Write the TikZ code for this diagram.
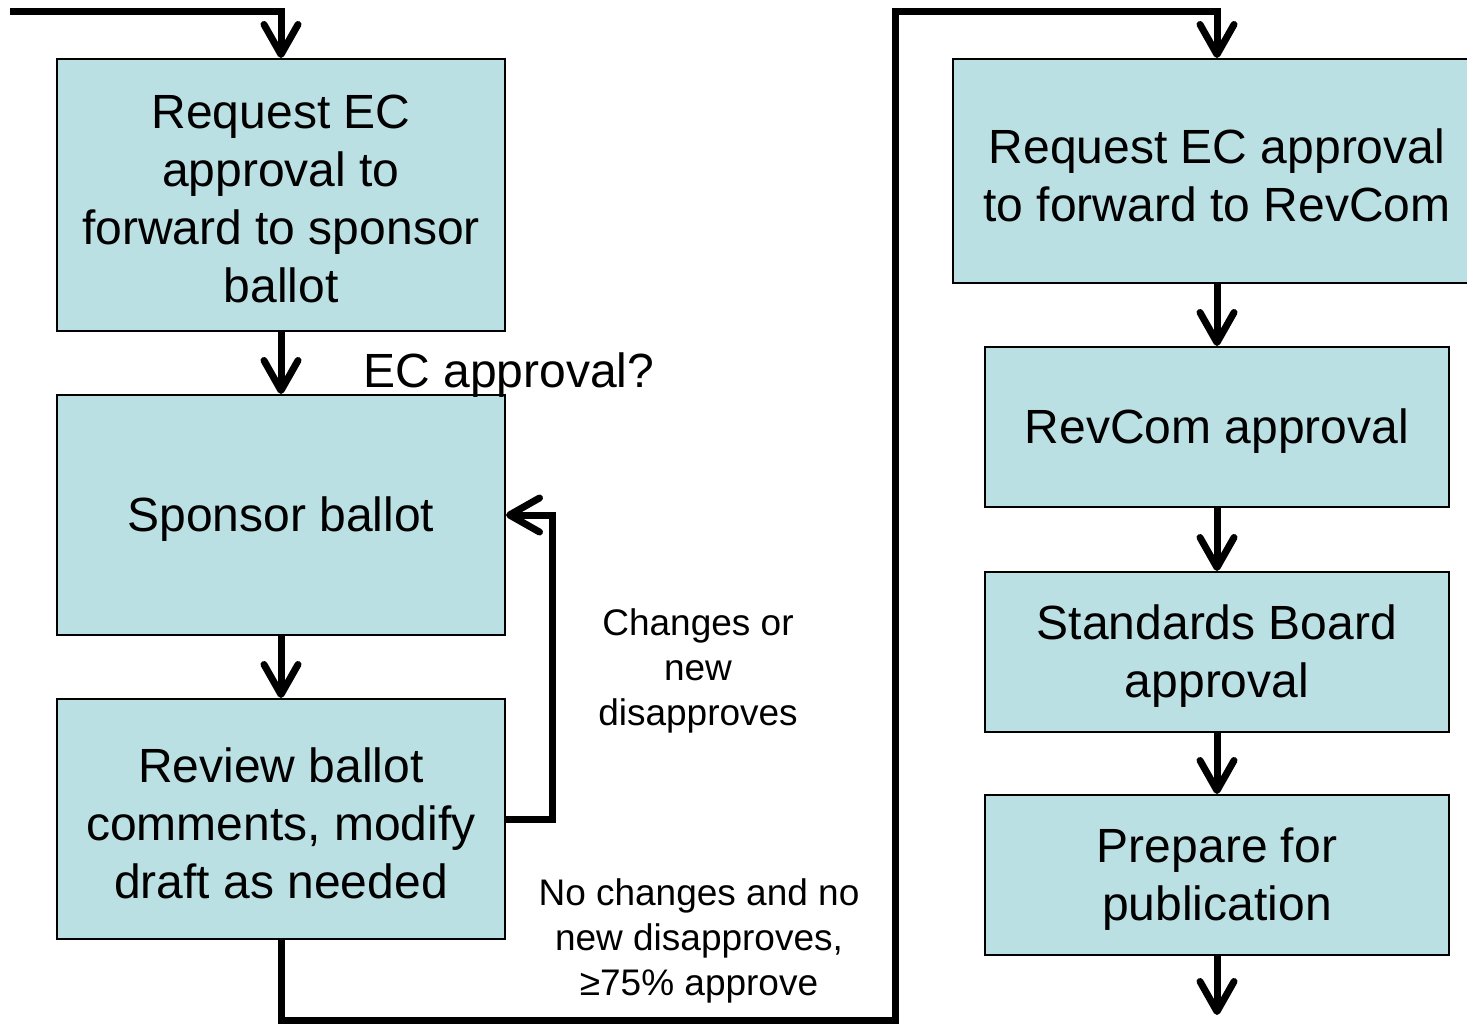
\documentclass[tikz,border=0pt]{standalone}
\usepackage{fontspec}
\setmainfont{Liberation Sans}
\usetikzlibrary{arrows.meta}
\definecolor{boxfill}{HTML}{BBE0E3}
\begin{document}
\begin{tikzpicture}[x=0.5pt,y=-0.5pt,
  box/.style={draw=black,line width=1pt,fill=boxfill,rectangle,inner sep=0pt},
  txt/.style={align=center,inner sep=0pt,font=\fontsize{24}{29}\selectfont,yshift=-2.2pt},
  arr/.style={line width=3.5pt,-{Straight Barb[length=15pt,width=17pt,line cap=round,line join=round]}},
  lbl/.style={align=center,inner sep=0pt},
  small/.style={font=\fontsize{18.5}{22.5}\selectfont},
  big/.style={font=\fontsize{24}{29}\selectfont}]
\useasboundingbox (0,0) rectangle (1467,1023);
\node[box,minimum width=224pt,minimum height=136pt] (b1) at (281,195) {};
\node[box,minimum width=224pt,minimum height=120pt] (b2) at (281,515) {};
\node[box,minimum width=224pt,minimum height=120pt] (b3) at (281,819) {};
\node[box,minimum width=264pt,minimum height=112pt] (r1) at (1217,171) {};
\node[box,minimum width=232pt,minimum height=80pt] (r2) at (1217,427) {};
\node[box,minimum width=232pt,minimum height=80pt] (r3) at (1217,652) {};
\node[box,minimum width=232pt,minimum height=80pt] (r4) at (1217,875) {};
\node[txt] (t1) at (b1.center) {Request EC\\approval to\\forward to sponsor\\ballot};
\node[txt] (t2) at (b2.center) {Sponsor ballot};
\node[txt] (t3) at (b3.center) {Review ballot\\comments, modify\\draft as needed};
\node[txt] (t4) at (r1.center) {Request EC approval\\to forward to RevCom};
\node[txt] (t5) at (r2.center) {RevCom approval};
\node[txt] (t6) at (r3.center) {Standards Board\\approval};
\node[txt] (t7) at (r4.center) {Prepare for\\publication};
\node[lbl,big] (l1) at (509,375) {EC approval?};
\node[lbl,small] (l2) at (698,671) {Changes or\\new\\disapproves};
\node[lbl,small] (l3) at (699,941) {No changes and no\\new disapproves,\\≥75\% approve};
\coordinate (start) at (10,11);
\coordinate (c1) at (895,1020);
\coordinate (c2) at (895,11);
\coordinate (fin) at (1217,1015);
\draw[arr] (start) -| (b1.north);
\draw[arr] (b1.south) -- (b2.north);
\draw[arr] (b2.south) -- (b3.north);
\draw[arr] (b3.east) -- ++(46,0) |- (b2.east);
\draw[arr] (b3.south) |- (c1) -- (c2) -| (r1.north);
\draw[arr] (r1.south) -- (r2.north);
\draw[arr] (r2.south) -- (r3.north);
\draw[arr] (r3.south) -- (r4.north);
\draw[arr] (r4.south) -- (fin);
\end{tikzpicture}
\end{document}
